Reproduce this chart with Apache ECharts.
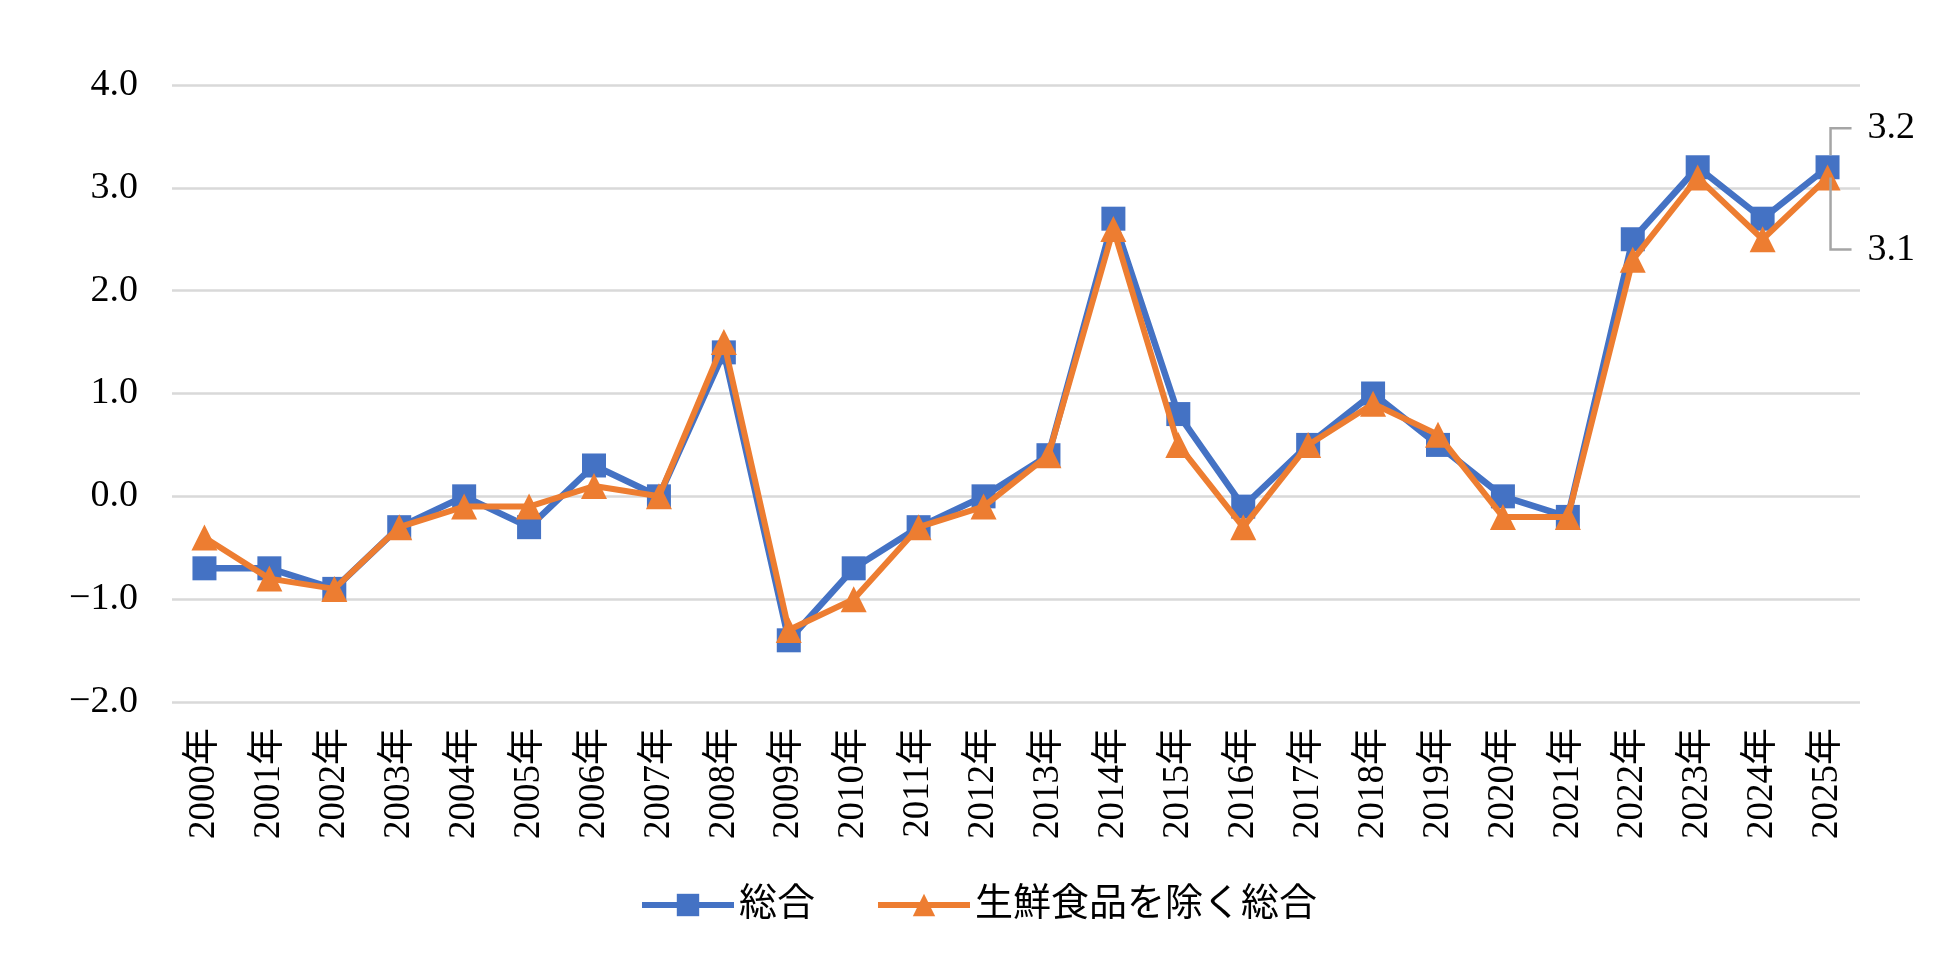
<!DOCTYPE html>
<html>
<head>
<meta charset="utf-8">
<script src="https://cdn.jsdelivr.net/npm/echarts@6/dist/echarts.min.js"></script>
<style>
  html, body { margin: 0; padding: 0; background: #fff; }
  #main { width: 1956px; height: 969px; }
</style>
</head>
<body>
<div id="main"></div>
<script>
var years = ['2000年','2001年','2002年','2003年','2004年','2005年','2006年','2007年','2008年','2009年',
  '2010年','2011年','2012年','2013年','2014年','2015年','2016年','2017年','2018年','2019年',
  '2020年','2021年','2022年','2023年','2024年','2025年'];
var sogo = [-0.7,-0.7,-0.9,-0.3,0.0,-0.3,0.3,0.0,1.4,-1.4,-0.7,-0.3,0.0,0.4,2.7,0.8,-0.1,0.5,1.0,0.5,0.0,-0.2,2.5,3.2,2.7,3.2];
var core = [-0.4,-0.8,-0.9,-0.3,-0.1,-0.1,0.1,0.0,1.5,-1.3,-1.0,-0.3,-0.1,0.4,2.6,0.5,-0.3,0.5,0.9,0.6,-0.2,-0.2,2.3,3.1,2.5,3.1];
var seriesNames = ['総合', '生鮮食品を除く総合'];

var FONT = "'Liberation Serif', 'Noto Sans CJK JP', serif";

var chart = echarts.init(document.getElementById('main'));
chart.setOption({
  animation: false,
  backgroundColor: '#fff',
  textStyle: { fontFamily: FONT },
  grid: { left: 172, right: 96, top: 85, bottom: 267 },
  legend: {
    bottom: 40,
    left: 'center',
    itemWidth: 92,
    itemHeight: 28,
    itemGap: 60,
    lineStyle: { width: 6 },
    textStyle: { fontSize: 38, color: '#000', fontFamily: FONT },
    data: seriesNames
  },
  xAxis: {
    type: 'category',
    data: years,
    boundaryGap: true,
    axisLine: { show: false },
    axisTick: { show: false },
    axisLabel: { rotate: 90, fontSize: 37, color: '#000', margin: 26, interval: 0, fontFamily: FONT }
  },
  yAxis: {
    type: 'value',
    min: -2,
    max: 4,
    interval: 1,
    axisLine: { show: false },
    axisTick: { show: false },
    axisLabel: {
      fontSize: 38, color: '#000', margin: 34, fontFamily: FONT,
      formatter: function (v) { return (v < 0 ? '\u2212' : '') + Math.abs(v).toFixed(1); }
    },
    splitLine: { lineStyle: { color: '#d9d9d9', width: 2.5 } }
  },
  series: [
    {
      name: seriesNames[0],
      type: 'line',
      data: sogo,
      symbol: 'rect',
      symbolSize: 24,
      itemStyle: { color: '#4472c4' },
      lineStyle: { color: '#4472c4', width: 6.5 },
      z: 2
    },
    {
      name: seriesNames[1],
      type: 'line',
      data: core,
      symbol: 'triangle',
      symbolSize: 26,
      itemStyle: { color: '#ed7d31' },
      lineStyle: { color: '#ed7d31', width: 6 },
      z: 3
    }
  ]
});

// value labels on the last point of each series, with elbow leader lines.
// anchor positions come from the chart's own scales via convertToPixel.
function lastLabel(seriesIndex, arr, dy, startDy) {
  var i = arr.length - 1;
  var pt = chart.convertToPixel({ seriesIndex: seriesIndex }, [i, arr[i]]);
  var x = pt[0] + 3, y = pt[1];
  return [
    {
      type: 'polyline', z: 10, silent: true,
      shape: { points: [[x, y + startDy], [x, y + dy], [x + 21, y + dy]] },
      style: { stroke: '#a5a5a5', lineWidth: 2.5, fill: null }
    },
    {
      type: 'text', z: 10, silent: true,
      x: x + 37, y: y + dy,
      style: {
        text: arr[i].toFixed(1), fill: '#000',
        font: '38px ' + FONT, verticalAlign: 'middle', align: 'left'
      }
    }
  ];
}

chart.setOption({
  graphic: lastLabel(0, sogo, -39, -12).concat(lastLabel(1, core, 72, 0))
});
</script>
</body>
</html>
